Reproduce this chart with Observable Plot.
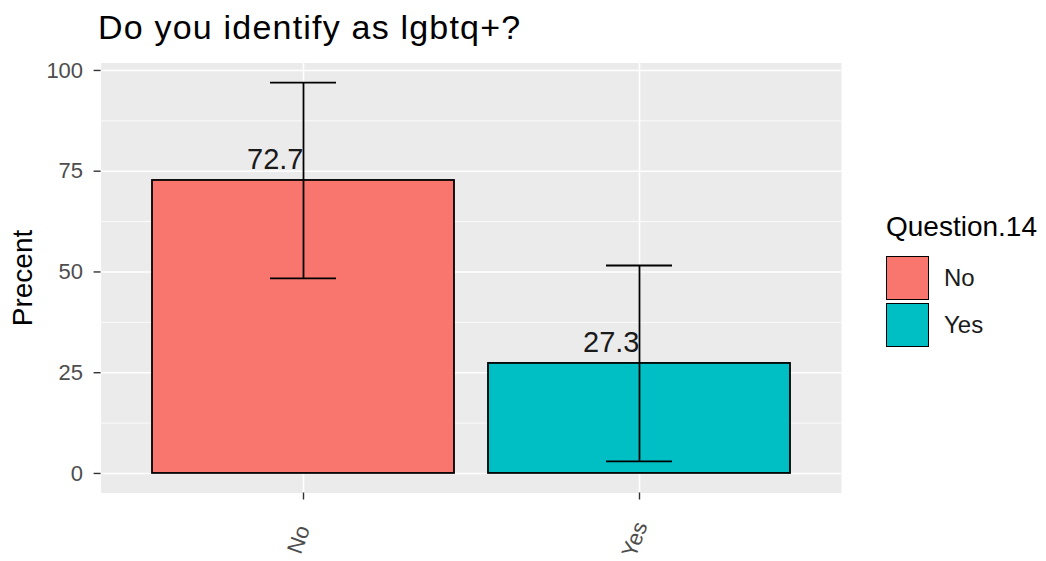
<!DOCTYPE html>
<html>
<head>
<meta charset="utf-8">
<script src="https://cdn.jsdelivr.net/npm/d3@7"></script>
<script src="https://cdn.jsdelivr.net/npm/@observablehq/plot@0.6"></script>
<style>
  html, body { margin: 0; padding: 0; background: white; }
  #wrap { position: relative; width: 1046px; height: 561px; font-family: "Liberation Sans", Arial, sans-serif; overflow: hidden; }
  #title { position: relative; height: 55px; }
  #title span { position: absolute; left: 98px; top: 8px; font-size: 34px; letter-spacing: 1.2px; line-height: normal; color: #000; white-space: nowrap; }
  #legend { position: absolute; left: 886px; top: 211px; }
  #legend .lt { font-size: 28px; color: #000; line-height: normal; margin-bottom: 11px; white-space: nowrap; }
  #legend .row { display: flex; align-items: center; height: 47px; }
  #legend .key { width: 41px; height: 42px; border: 1.6px solid #000; box-sizing: content-box; }
  #legend .lab { font-size: 24px; color: #1a1a1a; margin-left: 15px; }
  svg { overflow: visible; }
</style>
</head>
<body>
<div id="wrap">
  <div id="title"><span>Do you identify as lgbtq+?</span></div>
  <div id="chart"></div>
  <div id="legend"></div>
</div>
<script>
const categories = ["No", "Yes"];
const percents = [72.7, 27.3];
const errLow = [48.4, 3.0];
const errHigh = [97.0, 51.6];
const colors = ["#F8766D", "#00BFC4"];
const yTicks = [0, 25, 50, 75, 100];
const yMinor = [12.5, 37.5, 62.5, 87.5];
const legendTitle = "Question.14";
const yLabel = "Precent";

const data = categories.map((c, i) => ({cat: c, pct: percents[i], lo: errLow[i], hi: errHigh[i]}));

const dmin = Math.min(0, ...errLow), dmax = Math.max(...errHigh, ...percents);
const pad = 0.05 * (dmax - dmin);

const chart = Plot.plot({
  width: 1046,
  height: 506,
  marginLeft: 100.6,
  marginRight: 205,
  marginTop: 7.5,
  marginBottom: 68.5,
  style: {fontFamily: "'Liberation Sans', Arial, sans-serif", background: "white", overflow: "visible"},
  x: {domain: categories, paddingInner: 0.1, paddingOuter: 0.15, axis: null},
  y: {domain: [dmin - pad, dmax + pad], axis: null},
  color: {domain: categories, range: colors},
  marks: [
    Plot.frame({fill: "#EBEBEB", stroke: "none"}),
    Plot.gridY(yMinor, {stroke: "white", strokeOpacity: 1, strokeWidth: 0.8}),
    Plot.gridY(yTicks, {stroke: "white", strokeOpacity: 1, strokeWidth: 1.6}),
    Plot.gridX(categories, {stroke: "white", strokeOpacity: 1, strokeWidth: 1.6}),
    Plot.axisY(yTicks, {tickSize: 7, tickPadding: 11, fontSize: 22, color: "#4D4D4D", stroke: "#333", strokeWidth: 1.4, label: null}),
    Plot.axisX(categories, {tickSize: 7, tickFormat: () => "", stroke: "#333", strokeWidth: 1.4, label: null}),
    Plot.barY(data, {x: "cat", y: "pct", fill: "cat", stroke: "black", strokeWidth: 1.8}),
    Plot.ruleX(data, {x: "cat", y1: "lo", y2: "hi", stroke: "black", strokeWidth: 1.8}),
    Plot.tickY(data, {x: "cat", y: "lo", stroke: "black", strokeWidth: 1.8, insetLeft: 118, insetRight: 118}),
    Plot.tickY(data, {x: "cat", y: "hi", stroke: "black", strokeWidth: 1.8, insetLeft: 118, insetRight: 118}),
    Plot.text(data, {x: "cat", y: "pct", text: d => d.pct.toFixed(1), textAnchor: "end", lineAnchor: "bottom", dy: -11, fontSize: 29, fill: "#1a1a1a"}),
    Plot.text(categories, {x: d => d, frameAnchor: "bottom", dy: 49, dx: 2, rotate: -70, fontSize: 22, fill: "#4D4D4D"}),
    Plot.text([yLabel], {text: d => d, frameAnchor: "left", textAnchor: "middle", rotate: -90, dx: -78, fontSize: 28, fill: "#000"})
  ]
});
document.getElementById("chart").appendChild(chart);

const legend = document.getElementById("legend");
const lt = document.createElement("div");
lt.className = "lt";
lt.textContent = legendTitle;
legend.appendChild(lt);
categories.forEach((c, i) => {
  const row = document.createElement("div");
  row.className = "row";
  const key = document.createElement("div");
  key.className = "key";
  key.style.background = colors[i];
  const lab = document.createElement("div");
  lab.className = "lab";
  lab.textContent = c;
  row.appendChild(key);
  row.appendChild(lab);
  legend.appendChild(row);
});
</script>
</body>
</html>
